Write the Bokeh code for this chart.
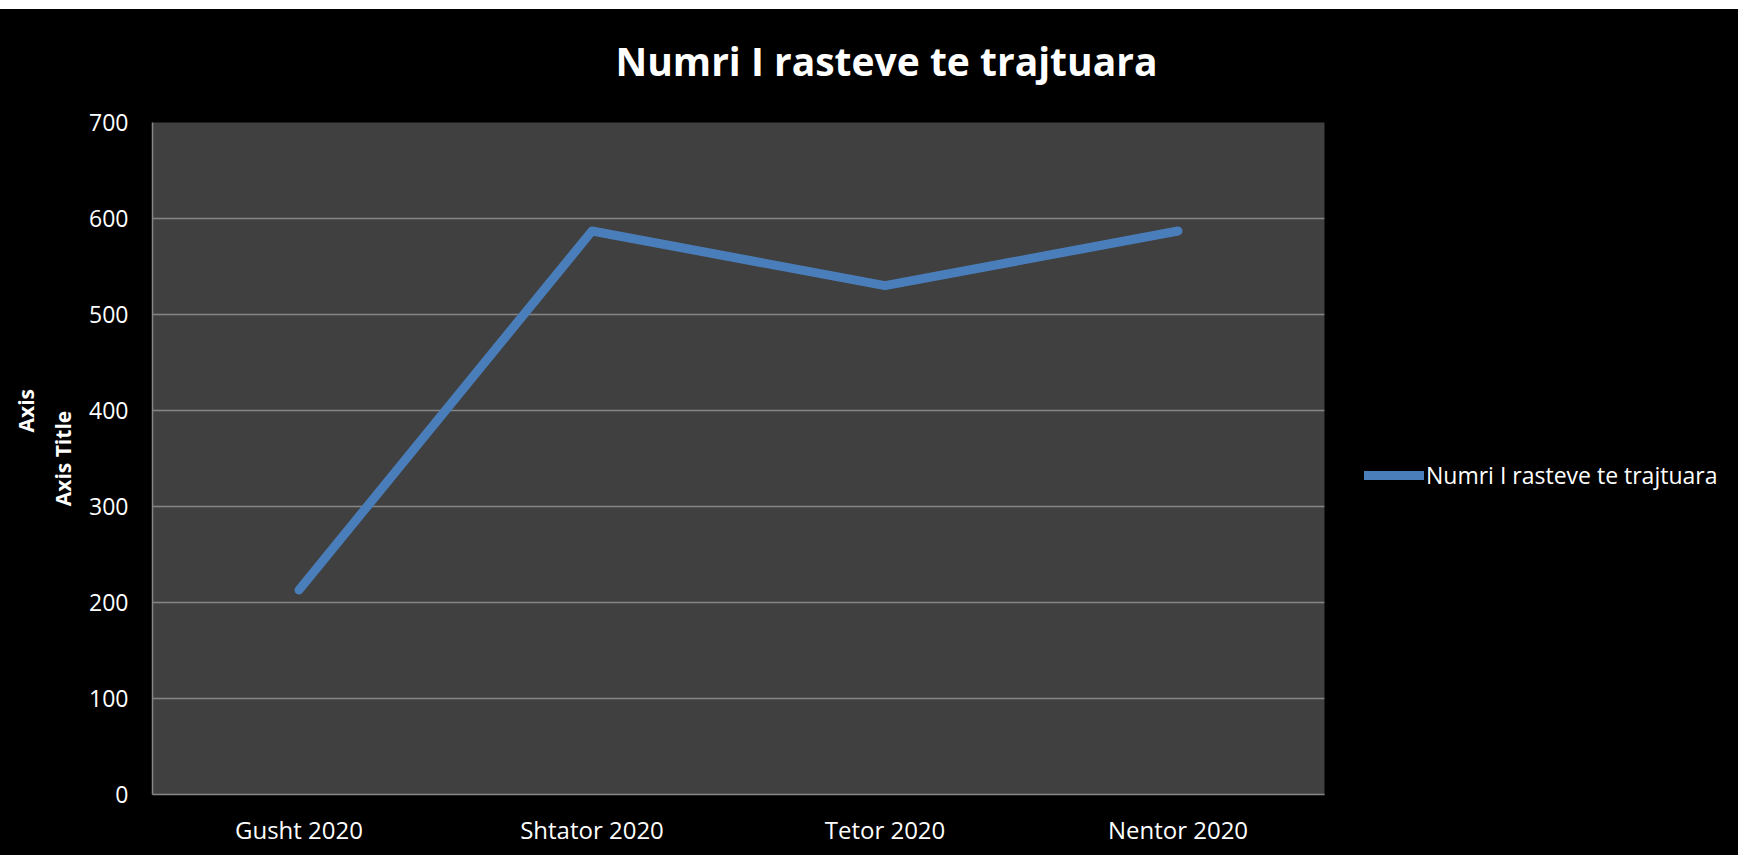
from bokeh.plotting import figure
from bokeh.models import (FactorRange, Range1d, Legend, LegendItem, SingleIntervalTicker,
                          Spacer, Title)
from bokeh.layouts import column, row
from bokeh.embed import file_html
from bokeh.resources import INLINE

categories = ["Gusht 2020", "Shtator 2020", "Tetor 2020", "Nentor 2020"]
values = [213, 587, 530, 587]
series_name = "Numri I rasteve te trajtuara"
title_text = "Numri I rasteve te trajtuara"
y_title = "Axis Title"
y_title_extra = "Axis"

FONT = "Open Sans"
GRID = "#868686"
LINE = "#4A7EBB"

p = figure(width=1326, height=846, title=None, x_range=FactorRange(*categories, range_padding=0),
           y_range=Range1d(0, 700), output_backend="svg", toolbar_location=None,
           min_border_left=152, min_border_right=2, min_border_top=113, min_border_bottom=61)
p.background_fill_color = "#404040"
p.border_fill_color = "black"
p.outline_line_color = None

# spacer title (nearest the frame), then the real title above it
p.add_layout(Title(text=" ", text_font_size="1px", standoff=33, text_color="black"), "above")
p.add_layout(Title(text=title_text, text_font=FONT, text_font_size="39px", text_font_style="bold",
                   text_color="white", align="left", offset=463, standoff=0), "above")

r = p.line(categories, values, line_color=LINE, line_width=9, line_cap="round", line_join="round")

yticker = SingleIntervalTicker(interval=100)
p.yaxis.ticker = yticker
for ax in (p.xaxis[0], p.yaxis[0]):
    ax.axis_line_color = GRID
    ax.axis_line_width = 1.5
    ax.major_tick_line_color = None
    ax.minor_tick_line_color = None
    ax.major_tick_out = 0
    ax.major_tick_in = 0
    ax.major_label_text_color = "white"
    ax.major_label_text_font = FONT
p.yaxis.major_label_text_font_size = "23px"
p.xaxis.major_label_text_font_size = "24px"
p.yaxis.major_label_standoff = 20
p.xaxis.major_label_standoff = 18
p.yaxis.axis_label = y_title
p.yaxis.axis_label_text_font = FONT
p.yaxis.axis_label_text_font_size = "21px"
p.yaxis.axis_label_text_font_style = "bold"
p.yaxis.axis_label_text_color = "white"
p.yaxis.axis_label_standoff = 9

# second, partly hidden "Axis" text at the far left
p.add_layout(Title(text=y_title_extra, text_font=FONT, text_font_size="21px", text_font_style="bold",
                   text_color="white", align="left", offset=362, standoff=14), "left")

p.xgrid.grid_line_color = None
p.ygrid.ticker = yticker
p.ygrid.grid_line_color = GRID
p.ygrid.grid_line_width = 1.5

# legend panel (separate figure to the right of the plot area); its proxy line is out of view
pl = figure(width=412, height=846, output_backend="svg", toolbar_location=None,
            x_range=FactorRange(*categories), y_range=Range1d(-2000, -1000),
            x_axis_location=None, y_axis_location=None,
            min_border_left=0, min_border_right=0, min_border_top=113, min_border_bottom=61)
pl.background_fill_color = "black"
pl.border_fill_color = "black"
pl.outline_line_color = None
for g in pl.grid:
    g.visible = False
r_leg = pl.line(categories, values, line_color=LINE, line_width=9, line_cap="round")

legend = Legend(items=[LegendItem(label=series_name, renderers=[r_leg])], location=(38, 303),
                orientation="vertical", padding=0, margin=0, spacing=0,
                glyph_width=60, glyph_height=20, label_height=20, label_standoff=2,
                label_text_font=FONT, label_text_font_size="23px", label_text_color="white",
                background_fill_alpha=0, border_line_color=None)
pl.add_layout(legend, "center")

body = row(p, pl, styles={"background-color": "black"})
layout = column(Spacer(height=9), body)
open("out.html", "w").write(file_html(layout, INLINE))
